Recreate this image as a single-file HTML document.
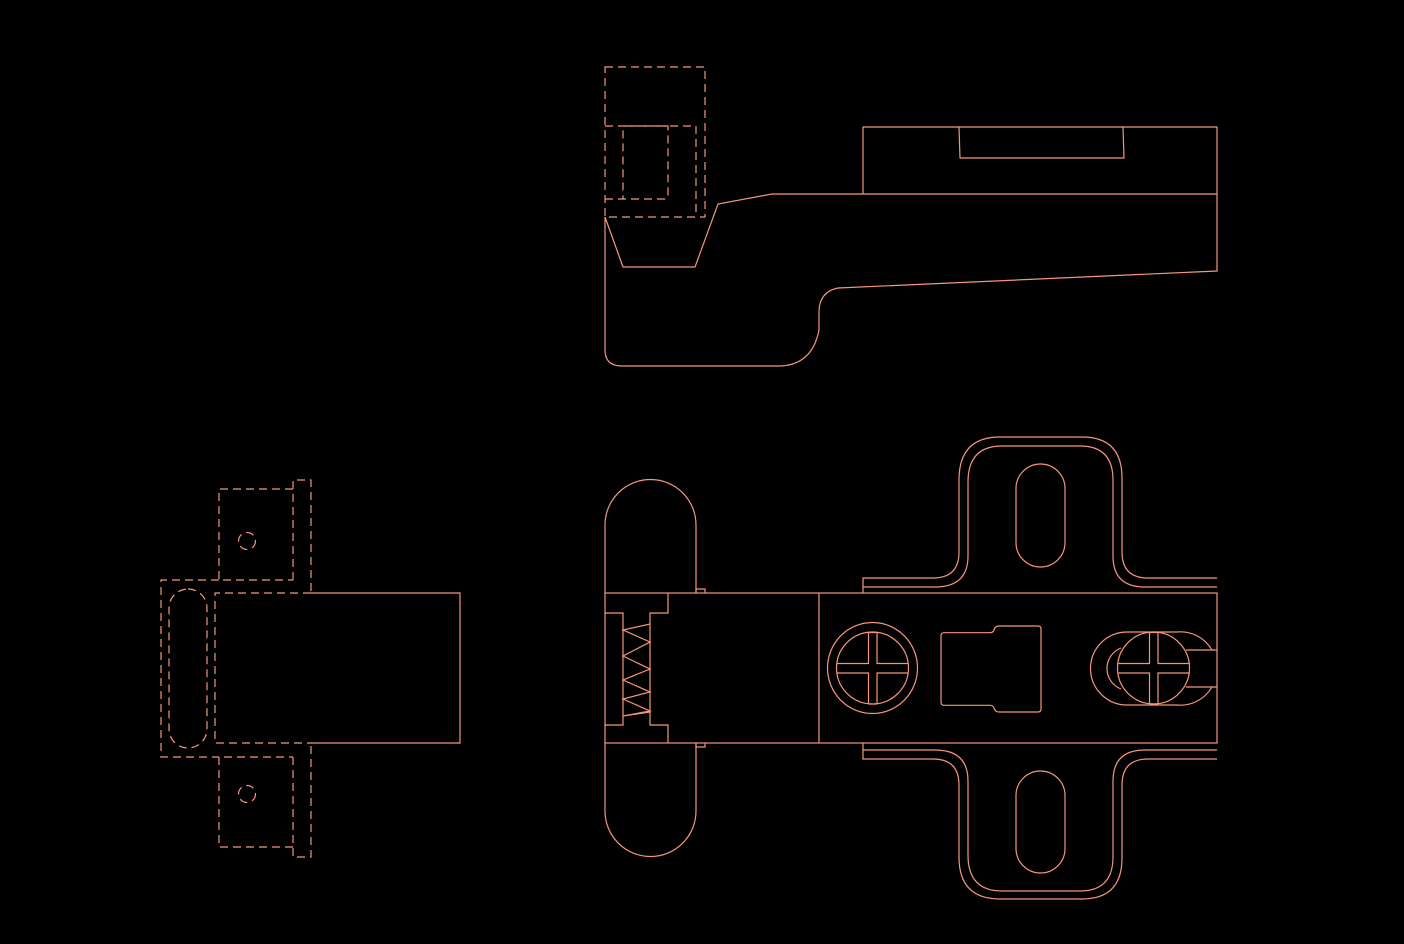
<!DOCTYPE html>
<html><head><meta charset="utf-8"><style>html,body{margin:0;padding:0;background:#000;}svg{display:block}</style></head>
<body>
<svg width="1404" height="944" viewBox="0 0 1404 944" xmlns="http://www.w3.org/2000/svg">
<g fill="none" stroke="#f5967a" stroke-width="1.2">
<!-- TOP VIEW -->
<g stroke-dasharray="8,5">
<rect x="605" y="67" width="100" height="150"/>
<path d="M605 126 H696 V217"/>
<path d="M605 199 H664 Q668 199 668 195 V126 H627 Q623 126 623 130 V199"/>
</g>
<path d="M605 217 L623 267 H695 L718 204 L772 194 H1217"/>
<path d="M863 194 V127 H1217 V271 L838 288 Q819 292 819 312 V330 Q812 366 778 366 H622 Q605 366 605 350 V217"/>
<path d="M959 127 L960 158 H1124 L1123 127"/>

<!-- LEFT VIEW -->
<g stroke-dasharray="8,5">
<path d="M293 580 V480 H311 V593"/>
<path d="M293 757 V857 H311 V743"/>
<path d="M293 489 H219 V580 H293"/>
<path d="M293 847 H219 V757 H293"/>
<path d="M219 580 H161 V757 H219"/>
<path d="M311 593 H215 V743 H311"/>
<rect x="169" y="589" width="38" height="159" rx="19" ry="19"/>
<circle cx="247" cy="541" r="8.5"/>
<circle cx="247" cy="794" r="8.5"/>
</g>
<path d="M311 593 H460 V743 H311"/>

<!-- FRONT VIEW -->
<path d="M605 593 V525 A45.5 45.5 0 0 1 696 525 V593"/>
<path d="M605 743 V811 A45.5 45.5 0 0 0 696 811 V743"/>
<path d="M696 593 V589 H705 V593 M696 743 V747 H705 V743"/>
<rect x="605" y="593" width="612" height="150"/>
<line x1="819" y1="593" x2="819" y2="743"/>
<path d="M668 593 V613 H650 V725 H668 V743"/>
<path d="M605 613 H623 V725 H605"/>
<path d="M623 630 L650 624 M650 624 L623 630 L650 642 L623 656 L650 669 L623 680 L650 692 L623 699 L650 711 L623 716 L650 712"/>
<!-- left screw -->
<ellipse cx="872.5" cy="668" rx="45" ry="45.5"/>
<circle cx="872.5" cy="668" r="36"/>
<path d="M868.5 632.5 V663.5 H837 M877 632.5 V663.5 H908 M837 673 H868.5 V704 M908 673 H877 V704 M868.5 632.5 H877 M868.5 704 H877"/>
<!-- center slot -->
<path d="M944 632.7 H990 Q993 632.7 994 630 Q995 626 999 626 H1038 Q1041 626 1041 629 V709 Q1041 712 1038 712 H999 Q995 712 994 708 Q993 705.3 990 705.3 H944 Q941 705.3 941 702 V636 Q941 632.7 944 632.7 Z"/>
<!-- right screw -->
<path d="M1127 632 H1177 A36.5 36.5 0 0 1 1212 650 M1212 687 A36.5 36.5 0 0 1 1177 705 H1127 A36.5 36.5 0 0 1 1127 632"/>
<path d="M1121 648 A22 22 0 0 0 1121 689"/>
<path d="M1186 650 H1217 M1186 687 H1217"/>
<circle cx="1153.5" cy="668" r="36"/>
<path d="M1149.5 632.5 V663.5 H1118 M1158 632.5 V663.5 H1190 M1118 673 H1149.5 V704 M1190 673 H1158 V704 M1149.5 632.5 H1158 M1149.5 704 H1158"/>
<!-- mounting plate upper -->
<path d="M863 593 V578 H933 Q959 578 959 552 V480 Q959 437 1000 437 H1082 Q1122 437 1122 478 V552 Q1122 578 1148 578 H1217"/>
<path d="M863 587 H935 Q968 587 968 556 V482 Q968 446 1002 446 H1080 Q1113 446 1113 480 V556 Q1113 587 1145 587 H1217"/>
<rect x="1016" y="464" width="49" height="103" rx="24.5" ry="24.5"/>
<!-- mounting plate lower -->
<path d="M863 743 V759 H933 Q959 759 959 785 V857 Q959 899 1000 899 H1082 Q1122 899 1122 858 V785 Q1122 759 1148 759 H1217"/>
<path d="M863 750 H935 Q968 750 968 781 V855 Q968 891 1002 891 H1080 Q1113 891 1113 857 V781 Q1113 750 1145 750 H1217"/>
<rect x="1016" y="771" width="49" height="102" rx="24.5" ry="24.5"/>
</g>
</svg>
</body></html>
